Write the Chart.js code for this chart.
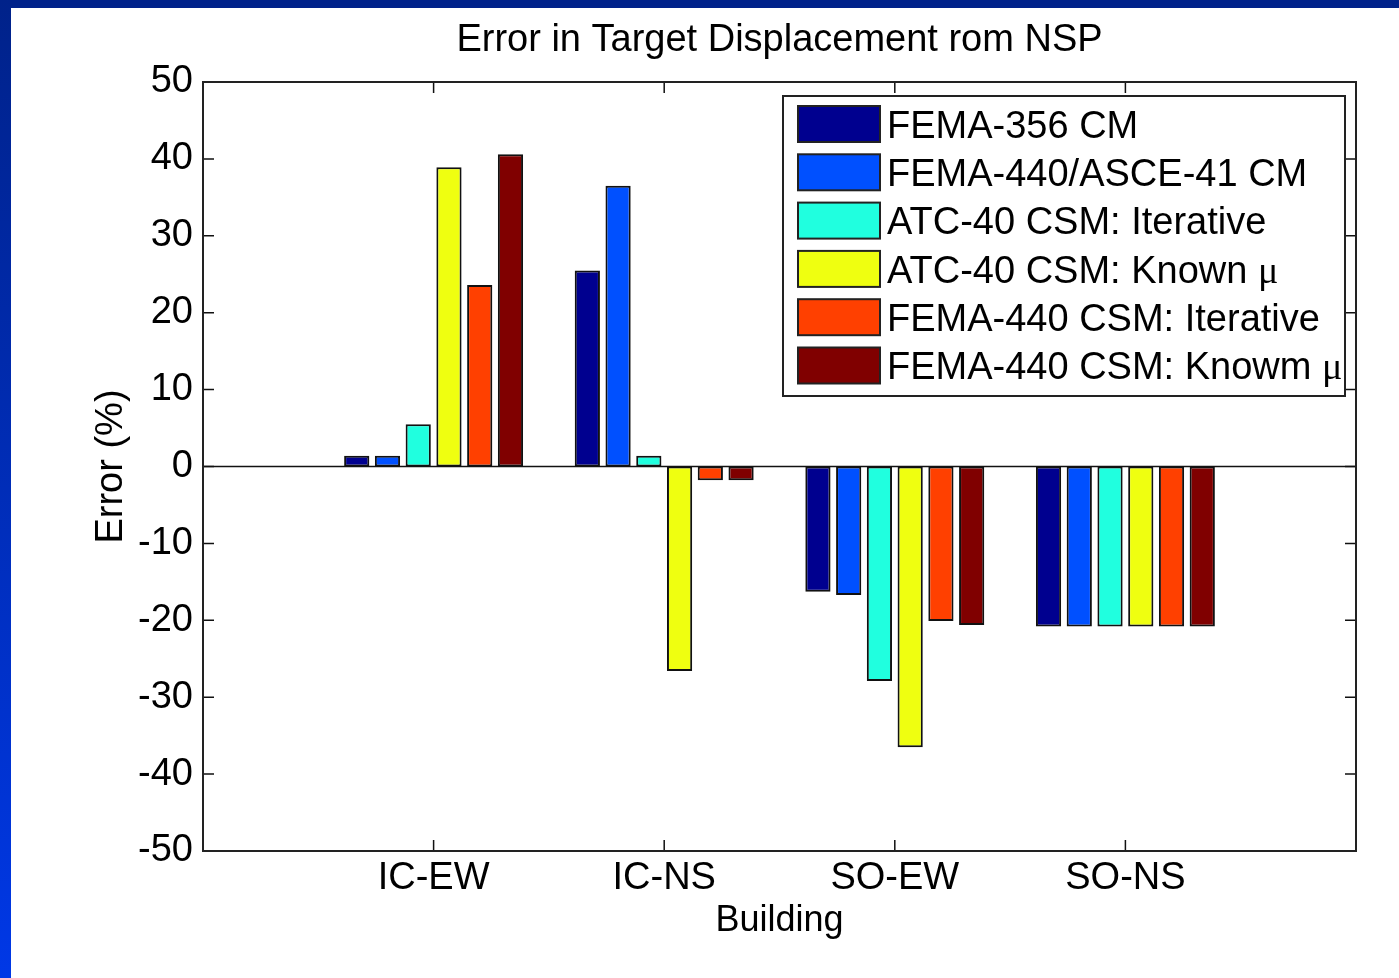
<!DOCTYPE html>
<html>
<head>
<meta charset="utf-8">
<title>Error in Target Displacement</title>
<script src="https://cdn.jsdelivr.net/npm/chart.js@4.4.1/dist/chart.umd.min.js"></script>
<style>
  html, body { margin: 0; padding: 0; background: #fff; width: 1399px; height: 978px; overflow: hidden; }
  #frameTop { position: absolute; left: 0; top: 0; width: 1399px; height: 8px; background: #00228a; }
  #frameLeft { position: absolute; left: 0; top: 0; width: 11px; height: 978px; background: linear-gradient(#00228a, #0038e6); }
  #wrap { position: absolute; left: 0; top: 0; width: 1399px; height: 978px; }
</style>
</head>
<body>
<div id="frameTop"></div>
<div id="frameLeft"></div>
<div id="wrap"><canvas id="errorChart"></canvas></div>
<script>
// values (percent error)
const buildings = ["IC-EW", "IC-NS", "SO-EW", "SO-NS"];
const fema356Cm = [1.4, 25.5, -16.3, -20.8];
const fema440Asce41Cm = [1.4, 36.5, -16.7, -20.8];
const atc40Iterative = [5.5, 1.4, -27.9, -20.8];
const atc40Known = [38.9, -26.6, -36.5, -20.8];
const fema440Iterative = [23.6, -1.8, -20.1, -20.8];
const fema440Known = [40.6, -1.8, -20.6, -20.8];

const seriesNames = [
  "FEMA-356 CM",
  "FEMA-440/ASCE-41 CM",
  "ATC-40 CSM: Iterative",
  "ATC-40 CSM: Known μ",
  "FEMA-440 CSM: Iterative",
  "FEMA-440 CSM: Knowm μ",
];
const seriesColors = ["#00008f", "#0050ff", "#20ffdf", "#efff10", "#ff4000", "#800000"];
const yMin = -50;
const yMax = 50;
const yStep = 10;

const FONT = "'Liberation Sans', Arial, sans-serif";

// empty slot on each side so the groups sit at 1..4 on a 0..5 axis
const paddedLabels = ["", ...buildings, ""];
function padded(values) {
  return [null, ...values, null];
}

const allSeries = [fema356Cm, fema440Asce41Cm, atc40Iterative, atc40Known, fema440Iterative, fema440Known];

// matlab style box, zero line, inward ticks and legend
const matlabAxes = {
  id: "matlabAxes",
  afterDatasetsDraw(chart) {
    const { ctx, chartArea: a, scales } = chart;
    const x = scales.x;
    const y = scales.y;
    const tick = 11;
    ctx.save();
    ctx.strokeStyle = "#111";
    ctx.lineWidth = 1.5;

    const zero = y.getPixelForValue(0);
    ctx.beginPath();
    ctx.moveTo(a.left, zero);
    ctx.lineTo(a.right, zero);
    ctx.stroke();

    ctx.beginPath();
    y.ticks.forEach((t) => {
      const py = y.getPixelForValue(t.value);
      ctx.moveTo(a.left, py);
      ctx.lineTo(a.left + tick, py);
      ctx.moveTo(a.right, py);
      ctx.lineTo(a.right - tick, py);
    });
    buildings.forEach((b, i) => {
      const px = x.getPixelForValue(i + 1);
      ctx.moveTo(px, a.bottom);
      ctx.lineTo(px, a.bottom - tick);
      ctx.moveTo(px, a.top);
      ctx.lineTo(px, a.top + tick);
    });
    ctx.stroke();

    ctx.strokeStyle = "#222";
    ctx.lineWidth = 2;
    ctx.strokeRect(a.left, a.top, a.right - a.left, a.bottom - a.top);
    ctx.restore();
  },
  afterDraw(chart) {
    const { ctx, chartArea: a } = chart;
    const boxW = 562;
    const boxH = 300;
    const left = a.right - 11 - boxW;
    const top = a.top + 14;
    ctx.save();
    ctx.fillStyle = "#fff";
    ctx.fillRect(left, top, boxW, boxH);
    ctx.strokeStyle = "#222";
    ctx.lineWidth = 2;
    ctx.strokeRect(left, top, boxW, boxH);

    const fs = 38;
    chart.data.datasets.forEach((ds, i) => {
      const cy = top + 28 + i * 48.3;
      ctx.fillStyle = ds.backgroundColor;
      ctx.fillRect(left + 15, cy - 18, 82, 36);
      ctx.strokeStyle = "#222";
      ctx.lineWidth = 2;
      ctx.strokeRect(left + 15, cy - 18, 82, 36);

      ctx.fillStyle = "#000";
      ctx.textBaseline = "alphabetic";
      ctx.textAlign = "left";
      const base = cy + 0.36 * fs;
      let label = ds.label;
      let mu = "";
      if (label.endsWith("μ")) {
        mu = "μ";
        label = label.slice(0, -1);
      }
      ctx.font = `${fs}px ${FONT}`;
      ctx.fillText(label, left + 104, base);
      if (mu) {
        const w = ctx.measureText(label).width;
        ctx.font = `${fs}px 'Liberation Serif', serif`;
        ctx.fillText(mu, left + 104 + w, base);
      }
    });
    ctx.restore();
  },
};

function createChart() {
  const datasets = allSeries.map((values, i) => ({
    label: seriesNames[i],
    data: padded(values),
    backgroundColor: seriesColors[i],
    borderColor: "#111",
    borderWidth: 2,
    borderSkipped: false,
    categoryPercentage: 0.8,
    barPercentage: 0.82,
  }));

  return new Chart(document.getElementById("errorChart"), {
    type: "bar",
    data: { labels: paddedLabels, datasets },
    plugins: [matlabAxes],
    options: {
      responsive: true,
      maintainAspectRatio: false,
      animation: false,
      layout: { padding: { left: 0, right: 43, top: 0, bottom: 0 } },
      plugins: {
        legend: { display: false },
        tooltip: { enabled: false },
        title: {
          display: true,
          fullSize: false,
          text: "Error in Target Displacement rom NSP",
          color: "#000",
          font: { family: FONT, size: 38, weight: "normal" },
          padding: { top: 18, bottom: 18.4 },
        },
      },
      scales: {
        x: {
          offset: false,
          grid: { display: false, drawTicks: false },
          border: { display: false },
          ticks: {
            color: "#000",
            padding: 5,
            maxRotation: 0,
            autoSkip: false,
            font: { family: FONT, size: 38 },
          },
          title: {
            display: true,
            text: "Building",
            color: "#000",
            font: { family: FONT, size: 36 },
            padding: { top: 0, bottom: 35 },
          },
          afterFit(scale) {
            scale.height = 127;
          },
        },
        y: {
          min: yMin,
          max: yMax,
          grid: { display: false, drawTicks: false },
          border: { display: false },
          ticks: {
            stepSize: yStep,
            color: "#000",
            padding: 10,
            font: { family: FONT, size: 38 },
          },
          title: {
            display: true,
            text: "Error (%)",
            color: "#000",
            font: { family: FONT, size: 38 },
            padding: { top: 89, bottom: 0 },
          },
          afterFit(scale) {
            scale.width = 203;
          },
        },
      },
    },
  });
}

createChart();
</script>
</body>
</html>
